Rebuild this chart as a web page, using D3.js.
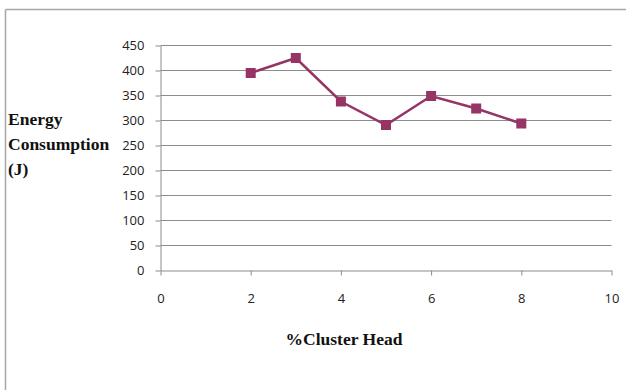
<!DOCTYPE html>
<html><head><meta charset="utf-8">
<script src="https://cdn.jsdelivr.net/npm/d3@7"></script>
<style>body{margin:0;background:#fff}svg{display:block}</style>
</head><body>
<script>
const xValues = [2, 3, 4, 5, 6, 7, 8];
const energyValues = [395, 425, 338, 291, 349, 324, 294];
const xTicks = [0, 2, 4, 6, 8, 10];
const yTicks = [0, 50, 100, 150, 200, 250, 300, 350, 400, 450];
const yTitleLines = ["Energy", "Consumption", "(J)"];
const xTitle = "%Cluster Head";

const W = 626, H = 390;
const svg = d3.select("body").append("svg").attr("width", W).attr("height", H);

// outer frame (top and left edges visible)
svg.append("line").attr("x1", 5.5).attr("x2", W).attr("y1", 9.5).attr("y2", 9.5).attr("stroke", "#a6a6a6").attr("stroke-width", 1.5);
svg.append("line").attr("x1", 5.5).attr("x2", 5.5).attr("y1", 9.5).attr("y2", H).attr("stroke", "#a6a6a6").attr("stroke-width", 1.5);

const x = d3.scaleLinear().domain([0, 10]).range([160.5, 611.5]);
const y = d3.scaleLinear().domain([0, 450]).range([270.5, 45.5]);

// gridlines
svg.append("g").selectAll("line").data(yTicks.filter(d => d > 0)).join("line")
  .attr("x1", x(0)).attr("x2", x(10)).attr("y1", d => y(d)).attr("y2", d => y(d))
  .attr("stroke", "#8c8c8c").attr("stroke-width", 1);

const tickFont = "'Open Sans', 'DejaVu Sans', sans-serif";
// y axis
const yAxis = svg.append("g").attr("transform", `translate(${x(0)},0)`)
  .call(d3.axisLeft(y).tickValues(yTicks).tickSize(5).tickSizeOuter(0));
yAxis.select(".domain").attr("stroke", "#8c8c8c");
yAxis.selectAll(".tick line").attr("stroke", "#8c8c8c");
yAxis.selectAll("text").attr("font-family", tickFont).attr("font-size", 13).attr("fill", "#222").attr("x", -16);

// x axis
const xAxis = svg.append("g").attr("transform", `translate(0,${y(0)})`)
  .call(d3.axisBottom(x).tickValues(xTicks).tickSize(5).tickSizeOuter(0));
xAxis.select(".domain").attr("stroke", "#8c8c8c");
xAxis.selectAll(".tick line").attr("stroke", "#8c8c8c");
xAxis.selectAll("text").attr("font-family", tickFont).attr("font-size", 13).attr("fill", "#222").attr("y", 23);

// line
const color = "#953465";
svg.append("path").datum(xValues.map((d, i) => [d, energyValues[i]]))
  .attr("fill", "none").attr("stroke", color).attr("stroke-width", 2.5)
  .attr("d", d3.line().x(d => x(d[0])).y(d => y(d[1])));

// markers
svg.append("g").selectAll("rect").data(xValues.map((d, i) => [d, energyValues[i]])).join("rect")
  .attr("x", d => x(d[0]) - 5).attr("y", d => y(d[1]) - 5)
  .attr("width", 10).attr("height", 10).attr("fill", color);

// y title
svg.append("text").attr("font-family", "'Liberation Serif', 'Times New Roman', serif")
  .attr("font-weight", "bold").attr("font-size", 17.5).attr("fill", "#111")
  .selectAll("tspan").data(yTitleLines).join("tspan")
  .attr("x", 8).attr("y", (d, i) => 125 + i * 25).text(d => d);

// x title
svg.append("text").attr("x", 344).attr("y", 345).attr("text-anchor", "middle")
  .attr("font-family", "'Liberation Serif', 'Times New Roman', serif")
  .attr("font-weight", "bold").attr("font-size", 17.5).attr("fill", "#111").text(xTitle);
</script>
</body></html>
